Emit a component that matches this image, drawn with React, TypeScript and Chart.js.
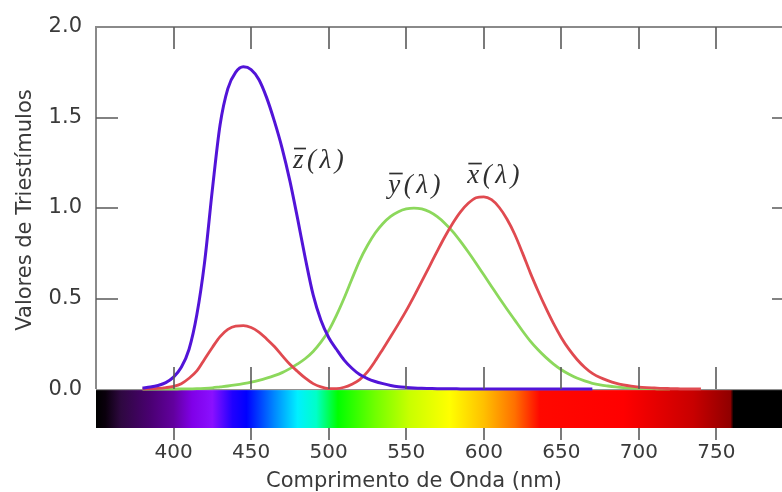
import React, { useEffect, useRef } from 'react';
import { Chart, registerables } from 'chart.js';

Chart.register(...registerables);

// Wavelengths (nm)
const wavelengths = [
  380, 385, 390, 395, 400, 405, 410, 415, 420, 425, 430, 435, 440, 445, 450, 455, 460, 465, 470, 475,
  480, 485, 490, 495, 500, 505, 510, 515, 520, 525, 530, 535, 540, 545, 550, 555, 560, 565, 570, 575,
  580, 585, 590, 595, 600, 605, 610, 615, 620, 625, 630, 635, 640, 645, 650, 655, 660, 665, 670, 675,
  680, 685, 690, 695, 700, 705, 710, 715, 720, 725, 730, 735, 740,
];

// x̄(λ)
const xBar = [
  0.001, 0.002, 0.004, 0.008, 0.015, 0.030, 0.060, 0.100, 0.165, 0.230, 0.290, 0.330, 0.348, 0.350, 0.340, 0.315, 0.277, 0.235, 0.185, 0.137,
  0.097, 0.060, 0.030, 0.012, 0.003, 0.003, 0.010, 0.027, 0.052, 0.095, 0.155, 0.222, 0.290, 0.360, 0.433, 0.512, 0.595, 0.678, 0.762, 0.843,
  0.916, 0.979, 1.026, 1.057, 1.062, 1.046, 1.003, 0.938, 0.854, 0.751, 0.642, 0.542, 0.448, 0.361, 0.284, 0.219, 0.165, 0.121, 0.087, 0.064,
  0.047, 0.033, 0.023, 0.016, 0.011, 0.008, 0.006, 0.004, 0.003, 0.002, 0.001, 0.001, 0.001,
];

// ȳ(λ)
const yBar = [
  0.000, 0.000, 0.000, 0.000, 0.000, 0.001, 0.001, 0.002, 0.004, 0.007, 0.012, 0.017, 0.023, 0.030, 0.038, 0.048, 0.060, 0.074, 0.091, 0.113,
  0.139, 0.169, 0.208, 0.259, 0.323, 0.407, 0.503, 0.608, 0.710, 0.793, 0.862, 0.915, 0.954, 0.980, 0.995, 1.000, 0.995, 0.979, 0.952, 0.915,
  0.870, 0.816, 0.757, 0.695, 0.631, 0.567, 0.503, 0.441, 0.381, 0.321, 0.265, 0.217, 0.175, 0.138, 0.107, 0.082, 0.061, 0.045, 0.032, 0.023,
  0.017, 0.012, 0.008, 0.006, 0.004, 0.003, 0.002, 0.001, 0.001, null, null, null, null,
];

// z̄(λ)
const zBar = [
  0.006, 0.011, 0.020, 0.036, 0.066, 0.120, 0.220, 0.410, 0.700, 1.100, 1.460, 1.660, 1.750, 1.780, 1.765, 1.710, 1.610, 1.480, 1.330, 1.150,
  0.940, 0.720, 0.520, 0.380, 0.285, 0.220, 0.160, 0.115, 0.080, 0.058, 0.042, 0.030, 0.020, 0.013, 0.009, 0.006, 0.004, 0.003, 0.002, 0.002,
  0.002, 0.001, 0.001, 0.001, 0.001, 0.001, 0.000, 0.000, 0.000, 0.000, 0.000, 0.000, 0.000, 0.000, 0.000, 0.000, 0.000, 0.000, 0.000, null,
  null, null, null, null, null, null, null, null, null, null, null, null, null,
];

// Axis ticks
const xTickValues = [400, 450, 500, 550, 600, 650, 700, 750];
const yTickValues = [0, 0.5, 1.0, 1.5, 2.0];

// Spectrum colour bar stops (nm, colour)
const spectrumNm = [350, 356, 366, 385, 400, 412, 425, 438, 447, 465, 480, 492, 506, 530, 552, 578, 600, 620, 636, 690, 735, 759, 761, 800];
const spectrumColors = [
  '#000000', '#0a000c', '#2e0840', '#4a0072', '#62009e', '#8000e8', '#8a10ff', '#2000ff', '#0000ff', '#0088ff',
  '#00f0ff', '#00ffc8', '#00ff00', '#70ff00', '#c8ff00', '#ffff00', '#ffc000', '#ff7000', '#ff0800', '#ff0000',
  '#c80000', '#900000', '#000000', '#000000',
];

// Curve annotations
const curveLabelLetters = ['z', 'y', 'x'];
const curveLabelNm = [477, 538.4, 589.4];
const curveLabelValue = [1.221, 1.083, 1.138];

const AXIS_GRAY = '#8a8a8a';
const TICK_GRAY = '#5a5a5a';
const TEXT_COLOR = '#3a3a3a';

const decorPlugin = {
  id: 'decor',
  beforeDatasetsDraw(chart: any) {
    const { ctx, chartArea, scales } = chart;
    const x = scales.x;
    const y = scales.y;
    const y0 = y.getPixelForValue(0);
    const x0 = x.getPixelForValue(spectrumNm[0]);
    const x1 = x.getPixelForValue(spectrumNm[spectrumNm.length - 1]);
    const g = ctx.createLinearGradient(x0, 0, x1, 0);
    spectrumNm.forEach((nm, i) => {
      const t = (x.getPixelForValue(nm) - x0) / (x1 - x0);
      g.addColorStop(Math.min(1, Math.max(0, t)), spectrumColors[i]);
    });
    ctx.save();
    ctx.fillStyle = g;
    ctx.fillRect(chartArea.left, y0 + 1, chartArea.right - chartArea.left, chartArea.bottom - y0 - 1);
    ctx.strokeStyle = AXIS_GRAY;
    ctx.lineWidth = 1;
    ctx.beginPath();
    ctx.moveTo(chartArea.left, y0 + 0.5);
    ctx.lineTo(chartArea.right, y0 + 0.5);
    ctx.stroke();
    ctx.restore();
  },
  afterDatasetsDraw(chart: any) {
    const { ctx, chartArea, scales } = chart;
    const x = scales.x;
    const y = scales.y;
    const y0 = y.getPixelForValue(0);
    const { left, right, top, bottom } = chartArea;
    ctx.save();
    // frame
    ctx.strokeStyle = AXIS_GRAY;
    ctx.lineWidth = 2;
    ctx.beginPath();
    ctx.moveTo(left, y0);
    ctx.lineTo(left, top);
    ctx.lineTo(right, top);
    ctx.lineTo(right, y0);
    ctx.stroke();
    // ticks
    ctx.strokeStyle = TICK_GRAY;
    ctx.lineWidth = 1.6;
    ctx.beginPath();
    xTickValues.forEach((v) => {
      const px = Math.round(x.getPixelForValue(v));
      ctx.moveTo(px, top);
      ctx.lineTo(px, top + 22);
      ctx.moveTo(px, y0);
      ctx.lineTo(px, y0 - 22);
      ctx.moveTo(px, bottom);
      ctx.lineTo(px, bottom + 12);
    });
    yTickValues.forEach((v) => {
      if (v <= 0 || v >= 2) return;
      const py = Math.round(y.getPixelForValue(v));
      ctx.moveTo(left, py);
      ctx.lineTo(left + 22, py);
      ctx.moveTo(right, py);
      ctx.lineTo(right - 22, py);
    });
    ctx.stroke();

    // axis titles
    ctx.fillStyle = TEXT_COLOR;
    ctx.font = '21px "DejaVu Sans"';
    ctx.textAlign = 'center';
    ctx.textBaseline = 'alphabetic';
    ctx.fillText('Comprimento de Onda (nm)', 414, 487);
    ctx.save();
    ctx.translate(31, 210);
    ctx.rotate(-Math.PI / 2);
    ctx.fillText('Valores de Triestímulos', 0, 0);
    ctx.restore();

    // curve labels
    ctx.fillStyle = '#303030';
    ctx.font = 'italic 27px "Liberation Serif"';
    ctx.textAlign = 'left';
    (ctx as any).letterSpacing = '3.5px';
    curveLabelLetters.forEach((letter, i) => {
      const px = x.getPixelForValue(curveLabelNm[i]);
      const py = y.getPixelForValue(curveLabelValue[i]);
      ctx.fillText(letter + '(λ)', px, py);
      const w = ctx.measureText(letter).width - 3.5;
      ctx.strokeStyle = '#303030';
      ctx.lineWidth = 1.7;
      ctx.beginPath();
      ctx.moveTo(px + 1, py - 19.5);
      ctx.lineTo(px + w + 2.5, py - 19.5);
      ctx.stroke();
    });
    (ctx as any).letterSpacing = '0px';
    ctx.restore();
  },
};

export default function App() {
  const canvasRef = useRef<HTMLCanvasElement | null>(null);

  useEffect(() => {
    const canvas = canvasRef.current;
    if (!canvas) return;
    const toPoints = (arr: (number | null)[]) => wavelengths.map((w, i) => ({ x: w, y: arr[i] }));
    const chart = new Chart(canvas, {
      type: 'line',
      data: {
        datasets: [
          { label: 'z', data: toPoints(zBar), borderColor: '#5214d8', borderWidth: 3, order: 0 },
          { label: 'x', data: toPoints(xBar), borderColor: '#e04a50', borderWidth: 2.8, order: 1 },
          { label: 'y', data: toPoints(yBar), borderColor: '#8cd85c', borderWidth: 2.8, order: 2 },
        ] as any,
      },
      options: {
        responsive: false,
        animation: false,
        devicePixelRatio: 1,
        elements: {
          point: { radius: 0 },
          line: { cubicInterpolationMode: 'monotone', fill: false },
        },
        layout: { padding: { top: 27, right: 16, left: 0, bottom: 0 } },
        plugins: { legend: { display: false }, tooltip: { enabled: false }, title: { display: false } },
        scales: {
          x: {
            type: 'linear',
            min: 350,
            max: 800,
            position: 'bottom',
            afterBuildTicks: (s: any) => {
              s.ticks = xTickValues.map((v) => ({ value: v }));
            },
            afterFit: (s: any) => {
              s.height = 64;
            },
            grid: { display: false, drawTicks: false },
            border: { display: false },
            ticks: {
              padding: 13,
              autoSkip: false,
              maxRotation: 0,
              color: TEXT_COLOR,
              font: { family: 'DejaVu Sans', size: 20 },
              callback: (v: any) => String(v),
            },
          },
          y: {
            type: 'linear',
            min: -0.215,
            max: 2.0,
            afterBuildTicks: (s: any) => {
              s.ticks = yTickValues.map((v) => ({ value: v }));
            },
            afterFit: (s: any) => {
              s.width = 96;
            },
            grid: { display: false, drawTicks: false },
            border: { display: false },
            ticks: {
              padding: 14,
              color: TEXT_COLOR,
              font: { family: 'DejaVu Sans', size: 21 },
              callback: (v: any) => Number(v).toFixed(1),
            },
          },
        },
      } as any,
      plugins: [decorPlugin],
    });
    return () => chart.destroy();
  }, []);

  return (
    <div
      style={{
        position: 'absolute',
        left: 0,
        top: 0,
        width: 782,
        height: 492,
        overflow: 'hidden',
        background: '#ffffff',
      }}
    >
      <canvas ref={canvasRef} width={810} height={492} style={{ display: 'block', width: 810, height: 492 }} />
    </div>
  );
}
